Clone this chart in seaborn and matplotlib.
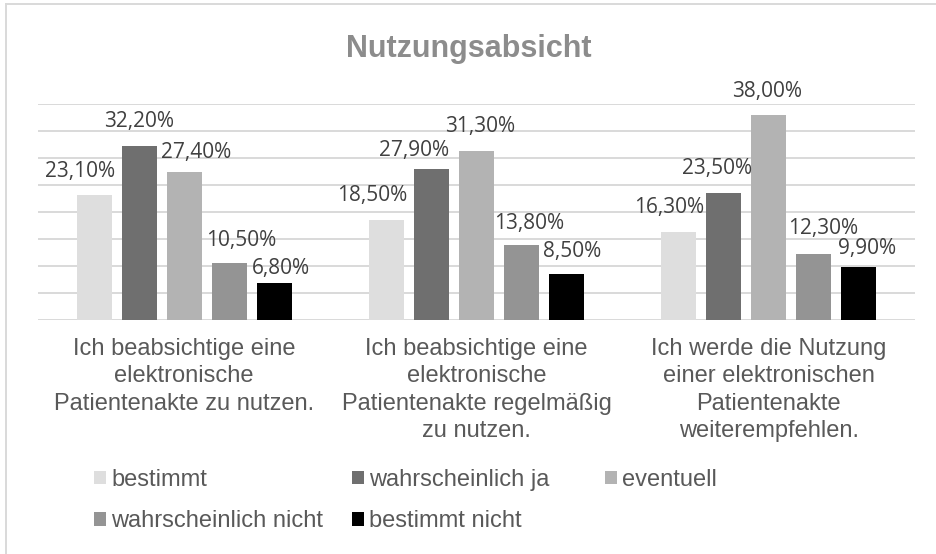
import numpy as np
import pandas as pd
import matplotlib
matplotlib.use("Agg")
import matplotlib.pyplot as plt
import matplotlib.patches as mpatches
from matplotlib.lines import Line2D
import seaborn as sns

# data (percent)
categories = [
    "Ich beabsichtige eine\nelektronische\nPatientenakte zu nutzen.",
    "Ich beabsichtige eine\nelektronische\nPatientenakte regelmäßig\nzu nutzen.",
    "Ich werde die Nutzung\neiner elektronischen\nPatientenakte\nweiterempfehlen.",
]
answers = ["bestimmt", "wahrscheinlich ja", "eventuell", "wahrscheinlich nicht", "bestimmt nicht"]
bestimmt = [23.1, 18.5, 16.3]
wahrscheinlich_ja = [32.2, 27.9, 23.5]
eventuell = [27.4, 31.3, 38.0]
wahrscheinlich_nicht = [10.5, 13.8, 12.3]
bestimmt_nicht = [6.8, 8.5, 9.9]

colors = ["#dedede", "#6f6f6f", "#b3b3b3", "#949494", "#000000"]

# label nudges in px (dx, dy above bar top), Excel moved some labels around
label_nudge = [
    [(-14, 18), (-14, 19), (-10, 19)],
    [(0, 19), (-17, 13), (-7, 19)],
    [(12, 14), (4, 19), (-2, 18)],
    [(12, 17), (8, 16), (9, 20)],
    [(7, 9), (6, 17), (8, 13)],
]

values = [bestimmt, wahrscheinlich_ja, eventuell, wahrscheinlich_nicht, bestimmt_nicht]
rows = []
for a, vals in zip(answers, values):
    for c, v in zip(categories, vals):
        rows.append({"Aussage": c, "Antwort": a, "Anteil": v})
df = pd.DataFrame(rows)

W, H = 937, 554
fig = plt.figure(figsize=(W / 100, H / 100), dpi=100)
fig.patch.set_facecolor("white")
ax = fig.add_axes([38 / W, 1 - 320 / H, 877 / W, 216 / H])

sns.barplot(data=df, x="Aussage", y="Anteil", hue="Antwort",
            order=categories, hue_order=answers,
            palette=dict(zip(answers, colors)),
            width=0.77, gap=0.22, linewidth=0, legend=False, ax=ax)

ax.set_ylim(0, 40)
ax.set_xlim(-0.5, 2.5)
ax.set_yticks(np.arange(0, 41, 5))
ax.yaxis.grid(True, color="#d9d9d9", linewidth=1.4)
ax.set_axisbelow(True)
for s in ax.spines.values():
    s.set_visible(False)
ax.set_xlabel("")
ax.set_ylabel("")
ax.tick_params(axis="y", left=False, labelleft=False)
ax.tick_params(axis="x", length=0, pad=13)
ax.set_xticks(range(len(categories)))
ax.set_xticklabels(categories, fontsize=17, color="#595959",
                   family="Liberation Sans", linespacing=1.32)

# data labels
px = 0.72
for i, cont in enumerate(ax.containers):
    for j, bar in enumerate(cont):
        v = bar.get_height()
        dx, dy = label_nudge[i][j]
        ax.annotate(f"{v:.2f}".replace(".", ",") + "%",
                    (bar.get_x() + bar.get_width() / 2, v),
                    xytext=(dx * px, dy * px), textcoords="offset points",
                    ha="center", va="baseline", fontsize=15,
                    color="#404040", family="Open Sans")

fig.text(469 / W, 1 - 57 / H, "Nutzungsabsicht", ha="center", va="baseline",
         fontsize=22, fontweight="bold", color="#8c8c8c", family="Liberation Sans")

# legend, three fixed-width columns like Excel
handles = [mpatches.Patch(color=c, linewidth=0) for c in colors]
columns = [([0, 3], 94), ([1, 4], 352), ([2], 605)]
for idx, xpos in columns:
    fig.legend([handles[k] for k in idx], [answers[k] for k in idx],
               loc="upper left", bbox_to_anchor=(xpos / W, 1 - 469 / H),
               frameon=False, borderpad=0, borderaxespad=0,
               handlelength=0.5, handleheight=0.5, handletextpad=0.24,
               labelspacing=0.82, prop={"family": "Liberation Sans", "size": 17},
               labelcolor="#595959")

# chart border (cropped on right and bottom)
fig.add_artist(Line2D([6 / W, 6 / W], [0, 1 - 4 / H], transform=fig.transFigure,
                      color="#d9d9d9", linewidth=1.4))
fig.add_artist(Line2D([6 / W, 1], [1 - 4 / H, 1 - 4 / H], transform=fig.transFigure,
                      color="#d9d9d9", linewidth=1.4))

fig.savefig("out.png", dpi=100)
